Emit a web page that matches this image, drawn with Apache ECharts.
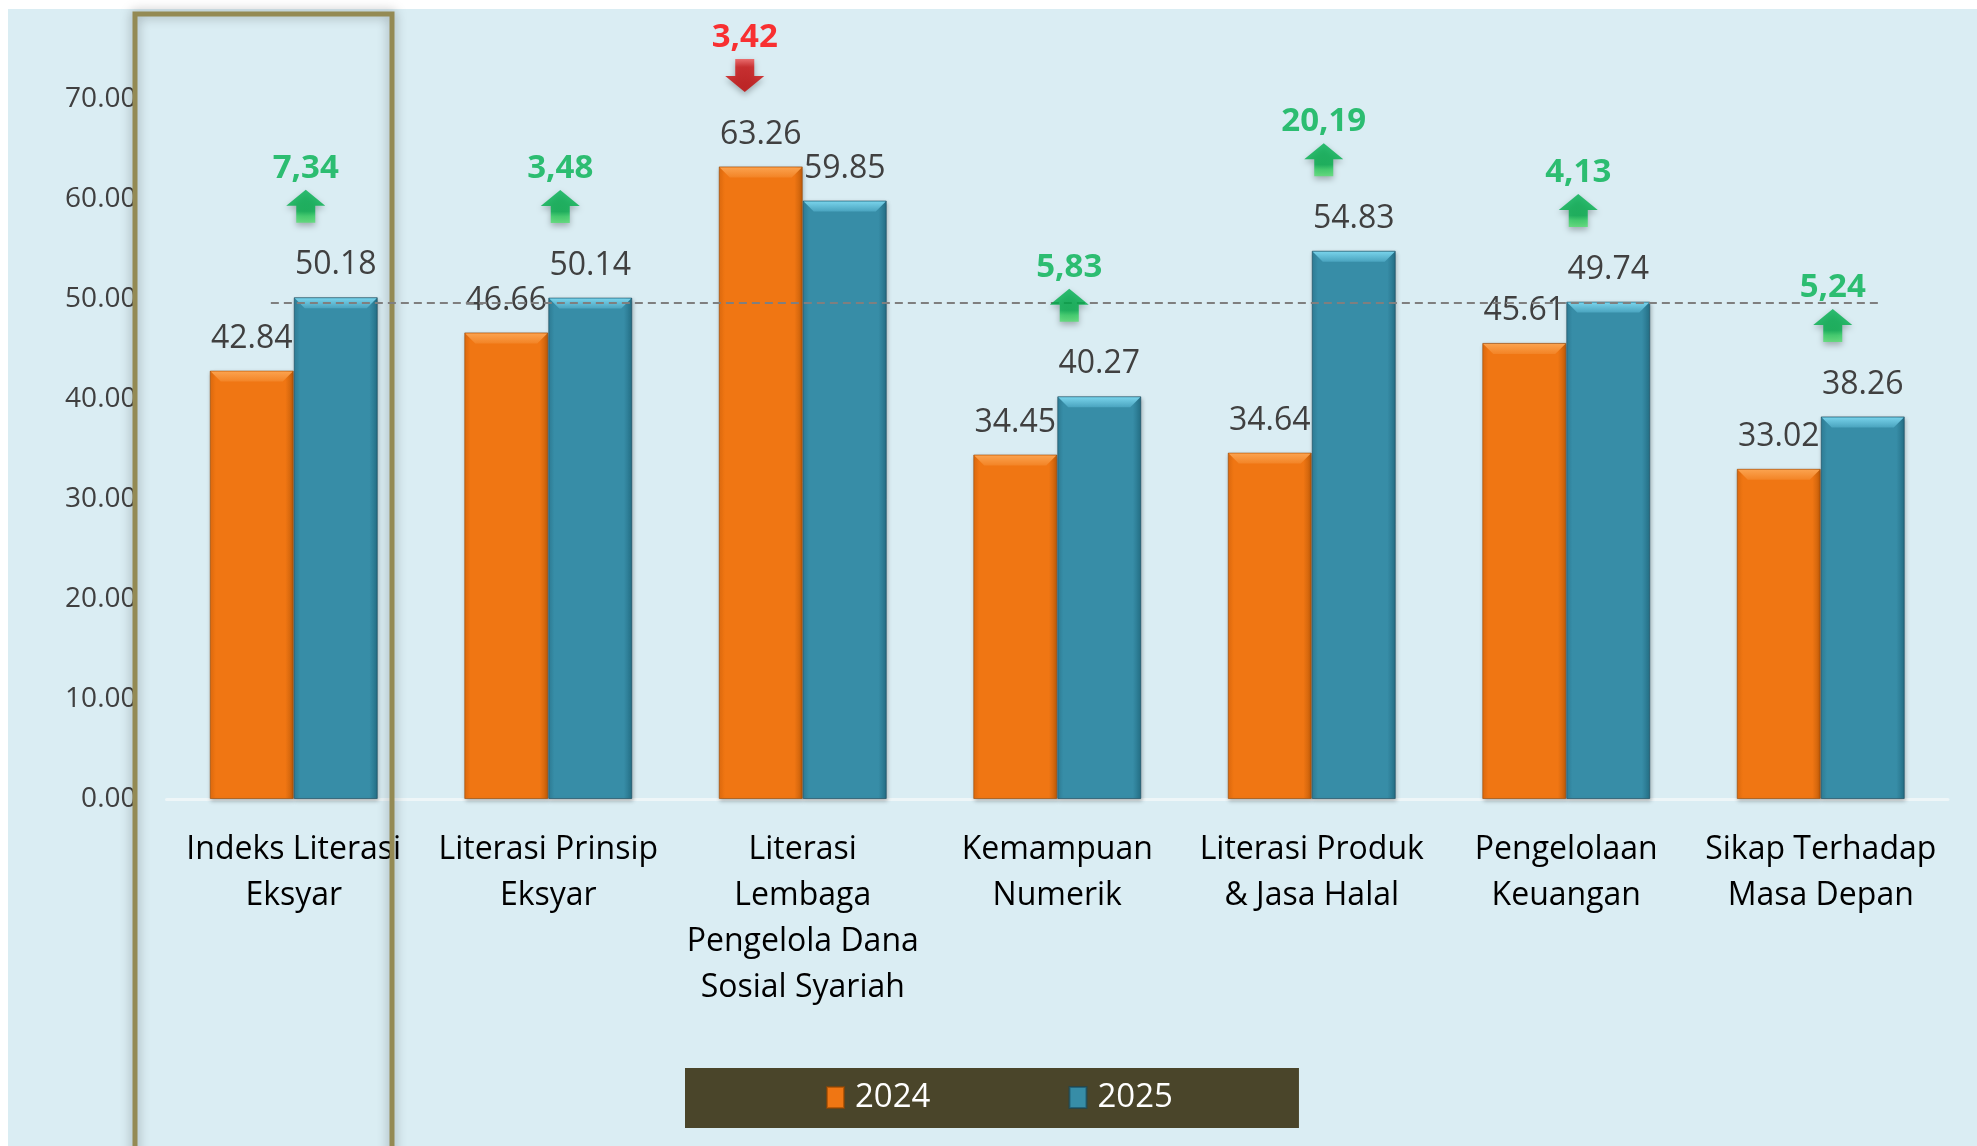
<!DOCTYPE html>
<html>
<head>
<meta charset="utf-8">
<script src="https://cdn.jsdelivr.net/npm/echarts@6/dist/echarts.min.js"></script>
<style>
html,body{margin:0;padding:0;background:#ffffff;}
#chart{width:1977px;height:1146px;}
</style>
</head>
<body>
<div id="chart"></div>
<script>
// ---------------- data ----------------
const categories = [
  'Indeks Literasi\nEksyar',
  'Literasi Prinsip\nEksyar',
  'Literasi\nLembaga\nPengelola Dana\nSosial Syariah',
  'Kemampuan\nNumerik',
  'Literasi Produk\n& Jasa Halal',
  'Pengelolaan\nKeuangan',
  'Sikap Terhadap\nMasa Depan'
];
const seriesNames = ['2024', '2025'];
const values2024 = [42.84, 46.66, 63.26, 34.45, 34.64, 45.61, 33.02];
const values2025 = [50.18, 50.14, 59.85, 40.27, 54.83, 49.74, 38.26];
const changeLabels = ['7,34', '3,48', '3,42', '5,83', '20,19', '4,13', '5,24'];
const changeDirections = ['up', 'up', 'down', 'up', 'up', 'up', 'up'];
const yMin = 0, yMax = 70, yInterval = 10;
const referenceValue = 49.6;
const referenceSpan = [-0.09, 6.24];

// ---------------- styling ----------------
const BAR_W = 84;
const FONT = "'Open Sans', 'Noto Sans', sans-serif";
const LG = echarts.graphic.LinearGradient;

function barFill(edgeL, base, edgeR) {
  return new LG(0, 0, 1, 0, [
    {offset: 0, color: edgeL}, {offset: 0.07, color: base},
    {offset: 0.9, color: base}, {offset: 1, color: edgeR}
  ]);
}
const orangeFill = barFill('#E36C0E', '#F07613', '#C25D0A');
const tealFill = barFill('#2F7F98', '#378DA7', '#246E85');

function bevelSeries(values, side, light, mid) {
  return {
    type: 'custom', silent: true, z: 3,
    data: values.map((v, i) => [i, v]),
    renderItem: function (params, api) {
      const p = api.coord([api.value(0), api.value(1)]);
      const x0 = side < 0 ? p[0] - BAR_W : p[0];
      const x1 = x0 + BAR_W;
      const y = p[1], h = 11, inset = 11;
      return {
        type: 'polygon',
        shape: {points: [[x0 + 1, y + 1], [x1 - 1, y + 1], [x1 - inset, y + h], [x0 + inset, y + h]]},
        style: {fill: new LG(0, 0, 0, 1, [{offset: 0, color: light}, {offset: 1, color: mid}])}
      };
    }
  };
}

const upPath = 'path://M19.5 0 L39 16 L29 16 L29 33 L10 33 L10 16 L0 16 Z';
const downPath = 'path://M10 0 L29 0 L29 17 L39 17 L19.5 33 L0 17 L10 17 Z';
const upFill = new LG(0, 0, 0, 1, [
  {offset: 0, color: '#00B050'}, {offset: 0.65, color: '#00AE48'},
  {offset: 0.8, color: '#2FD05E'}, {offset: 1, color: '#55E070'}
]);
const downFill = new LG(0, 0, 0, 1, [
  {offset: 0, color: '#F05050'}, {offset: 0.25, color: '#D01010'},
  {offset: 1, color: '#C00000'}
]);

const arrowData = changeLabels.map((txt, i) => {
  const up = changeDirections[i] === 'up';
  const top = Math.max(values2024[i], values2025[i]);
  return {
    value: [i, top],
    symbol: up ? upPath : downPath,
    symbolOffset: [up ? 12 : -58, -91],
    itemStyle: {color: up ? upFill : downFill},
    label: {formatter: txt, color: up ? '#00B050' : '#FF0000'}
  };
});

const chart = echarts.init(document.getElementById('chart'), null, {renderer: 'canvas'});
chart.setOption({
  animation: false,
  backgroundColor: '#ffffff',
  textStyle: {fontFamily: FONT},
  graphic: [
    {type: 'rect', z: -100, silent: true,
     shape: {x: 8, y: 9, width: 1969, height: 1137},
     style: {fill: '#DAEDF3'}},
    {type: 'rect', z: 1, silent: true,
     shape: {x: 135, y: 14, width: 257, height: 1160},
     style: {fill: null, stroke: '#948A54', lineWidth: 5,
             shadowBlur: 12, shadowColor: 'rgba(0,0,0,0.35)'}}
  ],
  grid: {left: 166.5, right: 29, top: 99, bottom: 347, containLabel: false, outerBoundsMode: 'none'},
  legend: {
    data: seriesNames,
    left: 685, top: 1068,
    padding: [13, 126, 14, 141],
    itemGap: 138, itemWidth: 17, itemHeight: 21,
    backgroundColor: '#4A452A',
    textStyle: {color: '#ffffff', fontSize: 33, fontFamily: FONT, padding: [0, 0, 0, 6]},
    icon: 'rect'
  },
  xAxis: [
    {
      type: 'category', data: categories, gridIndex: 0,
      axisLine: {show: true, lineStyle: {color: '#EEF6F8', width: 3}},
      axisTick: {show: false},
      axisLabel: {interval: 0, color: '#000000', fontSize: 32, lineHeight: 46, margin: 28, fontFamily: FONT}
    },
    {type: 'value', gridIndex: 0, min: -0.5, max: categories.length - 0.5, show: false}
  ],
  yAxis: {
    type: 'value', min: yMin, max: yMax, interval: yInterval,
    splitLine: {show: false},
    axisLine: {show: false}, axisTick: {show: false},
    axisLabel: {color: '#404040', fontSize: 28, margin: 30, fontFamily: FONT,
                formatter: v => v.toFixed(2)}
  },
  series: [
    {
      name: seriesNames[0], type: 'bar', data: values2024,
      barWidth: BAR_W, barGap: '0%',
      itemStyle: {color: orangeFill, borderColor: 'rgba(150,70,0,0.6)', borderWidth: 1,
                  shadowBlur: 4, shadowColor: 'rgba(0,0,0,0.25)', shadowOffsetX: 1, shadowOffsetY: 2},
      label: {show: true, position: 'top', distance: 16, color: '#404040', fontSize: 32, fontFamily: FONT,
              formatter: p => p.value.toFixed(2)}
    },
    {
      name: seriesNames[1], type: 'bar', data: values2025,
      barWidth: BAR_W, barGap: '0%',
      itemStyle: {color: tealFill, borderColor: 'rgba(20,70,90,0.6)', borderWidth: 1,
                  shadowBlur: 4, shadowColor: 'rgba(0,0,0,0.25)', shadowOffsetX: 1, shadowOffsetY: 2},
      label: {show: true, position: 'top', distance: 16, color: '#404040', fontSize: 32, fontFamily: FONT,
              formatter: p => p.value.toFixed(2)}
    },
    bevelSeries(values2024, -1, '#FBA24E', '#F38426'),
    bevelSeries(values2025, 1, '#78D2EA', '#4AA4BF'),
    {
      type: 'line', xAxisIndex: 1, yAxisIndex: 0, z: 4, silent: true,
      data: referenceSpan.map(x => [x, referenceValue]),
      symbol: 'none',
      lineStyle: {color: '#7F7F7F', width: 2, type: [8, 5]}
    },
    {
      type: 'scatter', z: 5, silent: true,
      data: arrowData,
      symbolSize: [39, 33],
      itemStyle: {shadowBlur: 6, shadowColor: 'rgba(0,0,0,0.35)', shadowOffsetY: 3},
      label: {show: true, position: 'top', distance: 5, fontSize: 33, fontWeight: 'bold', fontFamily: FONT}
    }
  ]
});
</script>
</body>
</html>
